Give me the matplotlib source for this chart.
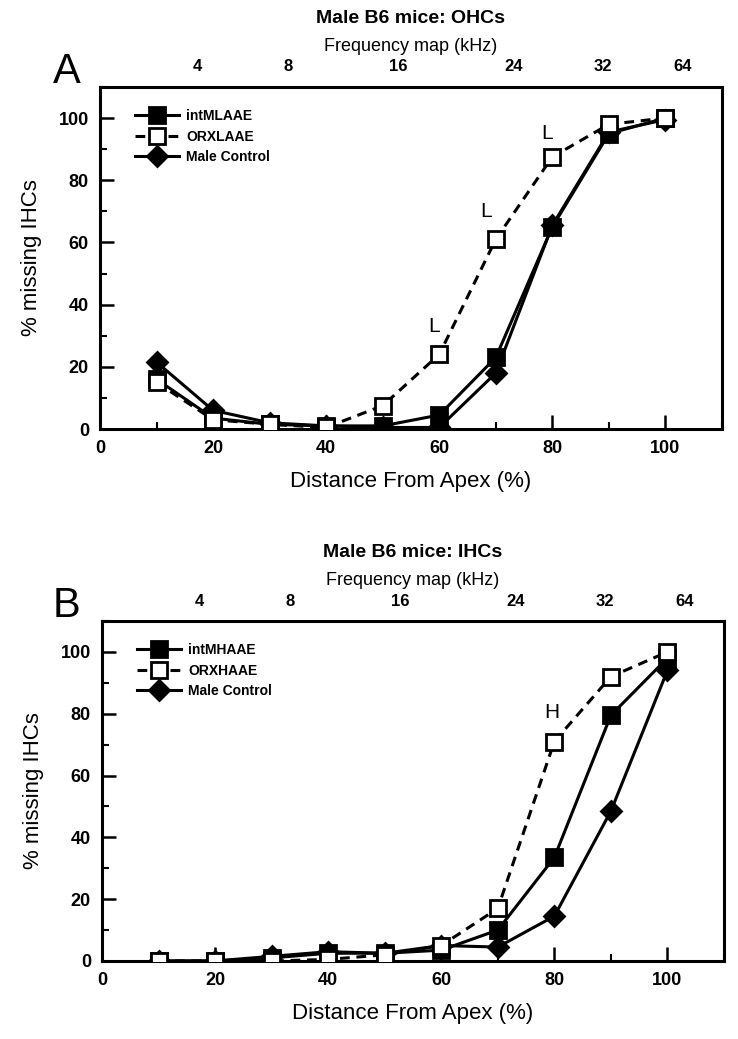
import numpy as np
import matplotlib.pyplot as plt
from matplotlib.ticker import MultipleLocator

plt.rcParams['font.family'] = ['Liberation Sans', 'DejaVu Sans']

# distance from apex (%)
dist = [10, 20, 30, 40, 50, 60, 70, 80, 90, 100]

# frequency map on the top axis
freq_pos = [17.2, 33.3, 52.7, 73.1, 89.0, 103.0]
freq_labels = ["4", "8", "16", "24", "32", "64"]

# panel A: OHCs, low-frequency exposure
ohc_int = [16, 3.5, 1.5, 1, 1, 4.5, 23, 65, 95, 100]
ohc_orx = [15, 3, 1.5, 0.5, 7.5, 24, 61, 87.5, 98, 100]
ohc_ctl = [21.5, 6, 2, 1, 0.5, 0.5, 18, 65.5, 95.5, 99.5]

# panel B: IHCs, high-frequency exposure
ihc_int = [0, 0, 1, 2.5, 2.5, 3.5, 10, 33.5, 79.5, 98]
ihc_orx = [0, 0, 0, 0.5, 2, 5, 17, 71, 92, 100]
ihc_ctl = [0, 0, 1.5, 3, 2.5, 5, 4.5, 14.5, 48.5, 94]

panels = [
    dict(letter="A", title="Male B6 mice: OHCs",
         data=[(ohc_ctl, "Male Control"), (ohc_int, "intMLAAE"), (ohc_orx, "ORXLAAE")],
         notes=[("L", 59, 33), ("L", 68.3, 70), ("L", 79, 95)],
         rect=[0.1355, 0.5871, 0.8428, 0.3292], letter_y=1 - 72 / 1039),
    dict(letter="B", title="Male B6 mice: IHCs",
         data=[(ihc_ctl, "Male Control"), (ihc_int, "intMHAAE"), (ihc_orx, "ORXHAAE")],
         notes=[("H", 79.5, 80.5)],
         rect=[0.1382, 0.0751, 0.8428, 0.3272], letter_y=1 - 606 / 1039),
]

styles = {
    0: dict(marker="D", ms=10, mfc="black", ls="-"),
    1: dict(marker="s", ms=11.5, mfc="black", ls="-"),
    2: dict(marker="s", ms=11.5, mfc="white", ls=(0, (3.2, 2.2))),
}

fig = plt.figure(figsize=(7.38, 10.39), dpi=100)

for p in panels:
    ax = fig.add_axes(p["rect"])
    handles = {}
    for i, (vals, lab) in enumerate(p["data"]):
        st = styles[i]
        ln, = ax.plot(dist, vals, color="black", lw=2.2, ls=st["ls"],
                      marker=st["marker"], ms=st["ms"], mfc=st["mfc"],
                      mec="black", mew=2.0, label=lab, zorder=3 + i)
        handles[lab] = ln
    order = [p["data"][1][1], p["data"][2][1], p["data"][0][1]]
    ax.legend([handles[k] for k in order], order, loc="upper left",
              bbox_to_anchor=(0.045, 0.955), frameon=False,
              prop=dict(weight="bold", size=10), handlelength=3.2,
              handletextpad=0.5, labelspacing=0.45, borderpad=0,
              numpoints=1)

    for txt, x, y in p["notes"]:
        ax.text(x, y, txt, fontsize=15, ha="center", va="center")

    ax.set_xlim(0, 110)
    ax.set_ylim(0, 110)
    ax.set_xticks([0, 20, 40, 60, 80, 100])
    ax.set_yticks([0, 20, 40, 60, 80, 100])
    ax.xaxis.set_minor_locator(MultipleLocator(10))
    ax.yaxis.set_minor_locator(MultipleLocator(10))
    ax.tick_params(which="major", direction="in", length=10, width=1.8,
                   labelsize=13, pad=8)
    ax.tick_params(which="minor", direction="in", length=5, width=1.5)
    for lbl in ax.get_xticklabels() + ax.get_yticklabels():
        lbl.set_fontweight("bold")
    for s in ax.spines.values():
        s.set_linewidth(2.2)

    ax.set_xlabel("Distance From Apex (%)", fontsize=16, labelpad=10)
    ax.set_ylabel("% missing IHCs", fontsize=16, labelpad=12)

    top = ax.secondary_xaxis("top")
    top.set_xticks(freq_pos, freq_labels)
    top.tick_params(length=0, pad=9, labelsize=12)
    for lbl in top.get_xticklabels():
        lbl.set_fontweight("bold")
    top.spines["top"].set_visible(False)
    top.set_xlabel("Frequency map (kHz)", fontsize=13, labelpad=6)

    ax.set_title(p["title"], fontsize=14, fontweight="bold", pad=46)
    fig.text(67 / 738, p["letter_y"], p["letter"], fontsize=30,
             ha="center", va="center")

fig.savefig("out.png", dpi=100)
